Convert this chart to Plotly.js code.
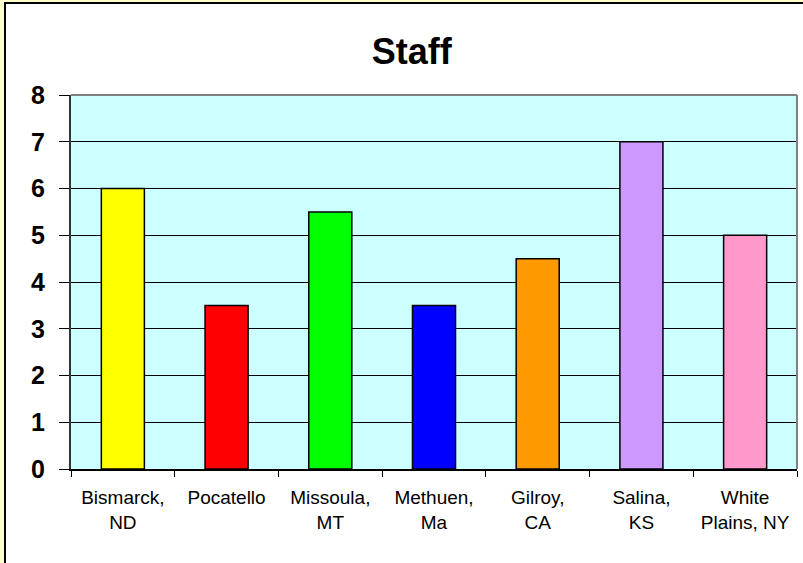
<!DOCTYPE html>
<html>
<head>
<meta charset="utf-8">
<script src="https://cdn.plot.ly/plotly-3.0.1.min.js"></script>
<style>
html, body { margin: 0; padding: 0; width: 803px; height: 563px; overflow: hidden; background: #ffffcc; }
#frame { position: absolute; left: 4px; top: 2px; width: 799px; height: 561px; border-left: 2px solid #000; border-top: 2px solid #000; box-sizing: border-box; background: #fff; }
#chart { position: absolute; left: 0; top: 0; width: 797px; height: 559px; }
</style>
</head>
<body>
<div id="frame"><div id="chart"></div></div>
<script>
const categories = ["Bismarck,<br>ND", "Pocatello", "Missoula,<br>MT", "Methuen,<br>Ma", "Gilroy,<br>CA", "Salina,<br>KS", "White<br>Plains, NY"];
const staff = [6, 3.5, 5.5, 3.5, 4.5, 7, 5];
const barColors = ["#ffff00", "#ff0000", "#00ff00", "#0000ff", "#ff9900", "#cc99ff", "#ff99cc"];
const yTicks = [0, 1, 2, 3, 4, 5, 6, 7, 8];

const trace = {
  type: "bar",
  x: categories,
  y: staff,
  marker: { color: barColors, line: { color: "#000", width: 1.5 } },
  hoverinfo: "x+y"
};

const layout = {
  width: 797,
  height: 559,
  margin: { l: 65, r: 6, t: 91, b: 94 },
  paper_bgcolor: "#ffffff",
  plot_bgcolor: "#ccffff",
  bargap: 0.585,
  showlegend: false,
  font: { family: "Arial, 'Liberation Sans', sans-serif", color: "#000" },
  title: {
    text: "<b>Staff</b>",
    font: { size: 36, family: "Arial, 'Liberation Sans', sans-serif", color: "#000" },
    x: 0.509, xanchor: "center",
    y: 0.915, yanchor: "middle"
  },
  xaxis: {
    type: "category",
    tickson: "boundaries",
    ticks: "outside",
    ticklen: 6,
    tickcolor: "#000",
    tickwidth: 1,
    showline: true,
    linecolor: "#000",
    linewidth: 1.5,
    showgrid: false,
    tickfont: { size: 19, color: "#000" },
    ticklabelstandoff: 11,
    fixedrange: true
  },
  yaxis: {
    range: [0, 8],
    tickvals: yTicks,
    ticktext: yTicks.map(String),
    ticks: "outside",
    ticklen: 10,
    tickcolor: "#000",
    tickwidth: 1,
    showline: true,
    linecolor: "#333",
    linewidth: 2,
    showgrid: true,
    gridcolor: "#000",
    gridwidth: 1,
    zeroline: false,
    tickfont: { size: 25, color: "#000", weight: "bold" },
    ticklabelstandoff: 9,
    fixedrange: true
  },
  shapes: [
    { type: "line", xref: "paper", yref: "paper", x0: 0, x1: 1, y0: 1, y1: 1, line: { color: "#808080", width: 2 } },
    { type: "line", xref: "paper", yref: "paper", x0: 1, x1: 1, y0: 0, y1: 1, line: { color: "#808080", width: 2 } }
  ]
};

Plotly.newPlot("chart", [trace], layout, { staticPlot: true, displayModeBar: false });
</script>
</body>
</html>
